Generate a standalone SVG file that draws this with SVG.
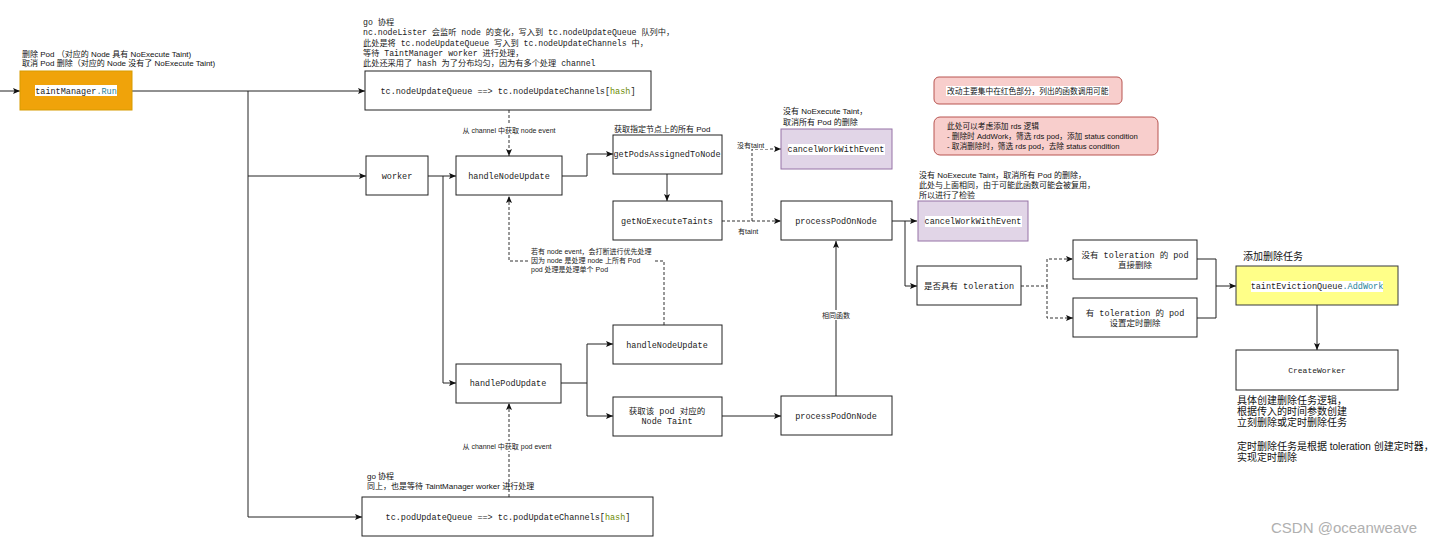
<svg xmlns="http://www.w3.org/2000/svg" width="1433" height="543" viewBox="0 0 1433 543">
<style>
.box{fill:#fff;stroke:#222;stroke-width:1}
.orange{fill:#f0a30a;stroke:#d79b00;stroke-width:1}
.purple{fill:#e1d5e7;stroke:#9673a6;stroke-width:1}
.yellow{fill:#ffff88;stroke:#36393d;stroke-width:1}
.red{fill:#f8cecc;stroke:#b85450;stroke-width:1}
.mono{font-family:"Liberation Mono","Noto Sans CJK SC",monospace;font-size:8.5px;fill:#222}
.sans{font-family:"Liberation Sans","Noto Sans CJK SC",sans-serif;font-size:8px;fill:#111}
.lbl{font-family:"Liberation Sans","Noto Sans CJK SC",sans-serif;font-size:7px;fill:#222}
.big{font-family:"Liberation Sans","Noto Sans CJK SC",sans-serif;font-size:10px;fill:#111}
.mid{text-anchor:middle}
.ln{fill:none;stroke:#222;stroke-width:1}
.dash{fill:none;stroke:#333;stroke-width:1;stroke-dasharray:3,2}
.wbg{fill:#fff}
.teal{fill:#267f99}
.olive{fill:#6a8a00}
</style>
<defs>
<marker id="arr" markerWidth="7" markerHeight="6" refX="7" refY="3" orient="auto" markerUnits="userSpaceOnUse">
<path d="M0,0 L7,3 L0,6 L1.5,3 Z" fill="#111"/>
</marker>
</defs>

<g id="connectors">
<path class="ln" d="M0,91 H20" marker-end="url(#arr)"/>
<path class="ln" d="M132,91 H365" marker-end="url(#arr)"/>
<path class="ln" d="M248,91 V517 H362" marker-end="url(#arr)"/>
<path class="ln" d="M248,176 H366" marker-end="url(#arr)"/>
<path class="ln" d="M428,176 H456" marker-end="url(#arr)"/>
<path class="ln" d="M443,176 V383 H456" marker-end="url(#arr)"/>
<path class="dash" d="M509,110 V156" marker-end="url(#arr)"/>
<path class="ln" d="M562,176 H587 V154 H613" marker-end="url(#arr)"/>
<path class="ln" d="M667,174 V201" marker-end="url(#arr)"/>
<path class="dash" d="M722,221 H752 V149 H781" marker-end="url(#arr)"/>
<path class="dash" d="M752,221 H781" marker-end="url(#arr)"/>
<path class="ln" d="M892,221 H917" marker-end="url(#arr)"/>
<path class="ln" d="M905,221 V286 H917" marker-end="url(#arr)"/>
<path class="dash" d="M1021,286 H1047 V259 H1073" marker-end="url(#arr)"/>
<path class="dash" d="M1047,286 V318 H1073" marker-end="url(#arr)"/>
<path class="ln" d="M1197,259 H1216 V318 H1197"/>
<path class="ln" d="M1216,286 H1236" marker-end="url(#arr)"/>
<path class="ln" d="M1317,305 V350" marker-end="url(#arr)"/>
<path class="ln" d="M561,383 H587 V344 H613" marker-end="url(#arr)"/>
<path class="ln" d="M587,383 V416 H613" marker-end="url(#arr)"/>
<path class="ln" d="M722,416 H781" marker-end="url(#arr)"/>
<path class="ln" d="M836,396 V241" marker-end="url(#arr)"/>
<path class="dash" d="M509,497 V403" marker-end="url(#arr)"/>
<path class="dash" d="M664,325 V261 H509 V196" marker-end="url(#arr)"/>
<rect class="wbg" x="459" y="125" width="100" height="10"/>
<text class="lbl mid" x="509" y="133">从 channel 中获取 node event</text>
<rect class="wbg" x="737" y="140" width="31" height="9"/>
<text class="lbl" x="737" y="148">没有taint</text>
<text class="lbl" x="738" y="234">有taint</text>
<rect class="wbg" x="820" y="310" width="32" height="10"/>
<text class="lbl mid" x="836" y="318">相同函数</text>
<rect class="wbg" x="461" y="441" width="93" height="10"/>
<text class="lbl mid" x="507" y="449">从 channel 中获取 pod event</text>
<rect class="wbg" x="529" y="245" width="124" height="28"/>
<text class="lbl" x="531" y="254">若有 node event，会打断进行优先处理</text>
<text class="lbl" x="531" y="263">因为 node 是处理 node 上所有 Pod</text>
<text class="lbl" x="531" y="272">pod 处理是处理单个 Pod</text>
</g>

<g id="taintManagerRun">
<text class="sans" x="22" y="57">删除 Pod （对应的 Node 具有 NoExecute Taint)</text>
<text class="sans" x="22" y="66">取消 Pod 删除（对应的 Node 没有了 NoExecute Taint)</text>
<rect class="orange" x="20" y="71" width="112" height="39"/>
<rect class="wbg" x="35" y="85" width="82" height="11"/>
<text class="mono mid" x="76" y="94">taintManager<tspan class="teal">.Run</tspan></text>
</g>

<g id="nodeUpdateQueue">
<text class="mono" style="font-size:8.2px" x="363" y="24.5">go 协程</text>
<text class="mono" style="font-size:8.2px" x="363" y="35">nc.nodeLister 会监听 node 的变化，写入到 tc.nodeUpdateQueue 队列中，</text>
<text class="mono" style="font-size:8.2px" x="363" y="45.5">此处是将 tc.nodeUpdateQueue 写入到 tc.nodeUpdateChannels 中，</text>
<text class="mono" style="font-size:8.2px" x="363" y="55.5">等待 TaintManager worker 进行处理，</text>
<text class="mono" style="font-size:8.2px" x="363" y="65.5">此处还采用了 hash 为了分布均匀，因为有多个处理 channel</text>
<rect class="box" x="365" y="71" width="286" height="39"/>
<text class="mono mid" x="508" y="94">tc.nodeUpdateQueue ==&gt; tc.nodeUpdateChannels[<tspan class="olive">hash</tspan>]</text>
</g>

<g id="worker">
<rect class="box" x="366" y="156" width="62" height="39"/>
<text class="mono mid" x="397" y="179">worker</text>
</g>

<g id="handleNodeUpdate">
<rect class="box" x="456" y="156" width="106" height="39"/>
<text class="mono mid" x="509" y="179">handleNodeUpdate</text>
</g>

<g id="getPodsAssignedToNode">
<text class="sans" x="614" y="132">获取指定节点上的所有 Pod</text>
<rect class="box" x="613" y="135" width="109" height="39"/>
<text class="mono mid" x="667" y="157">getPodsAssignedToNode</text>
</g>

<g id="getNoExecuteTaints">
<rect class="box" x="613" y="201" width="109" height="39"/>
<text class="mono mid" x="667" y="224">getNoExecuteTaints</text>
</g>

<g id="cancelWorkWithEvent1">
<text class="sans" x="783" y="114">没有 NoExecute Taint，</text>
<text class="sans" x="783" y="125">取消所有 Pod 的删除</text>
<rect class="purple" x="781" y="129" width="111" height="40"/>
<rect class="wbg" x="788" y="144" width="97" height="11"/>
<text class="mono mid" x="836" y="152">cancelWorkWithEvent</text>
</g>

<g id="processPodOnNode1">
<rect class="box" x="781" y="201" width="111" height="39"/>
<text class="mono mid" x="836" y="224">processPodOnNode</text>
</g>

<g id="cancelWorkWithEvent2">
<text class="sans" x="919" y="178">没有 NoExecute Taint，取消所有 Pod 的删除，</text>
<text class="sans" x="919" y="188">此处与上面相同，由于可能此函数可能会被复用，</text>
<text class="sans" x="919" y="198">所以进行了检验</text>
<rect class="purple" x="918" y="201" width="110" height="40"/>
<rect class="wbg" x="925" y="216" width="97" height="11"/>
<text class="mono mid" x="973" y="224">cancelWorkWithEvent</text>
</g>

<g id="note1">
<rect class="red" x="934" y="77" width="188" height="27" rx="5"/>
<rect class="wbg" x="946" y="86" width="163" height="10"/>
<text class="sans" style="font-size:7.7px" x="947" y="94">改动主要集中在红色部分，列出的函数调用可能</text>
</g>

<g id="note2">
<rect class="red" x="934" y="117" width="224" height="38" rx="6"/>
<text class="sans" style="font-size:7.7px" x="947" y="129">此处可以考虑添加 rds 逻辑</text>
<text class="sans" style="font-size:7.7px" x="947" y="139">- 删除时 AddWork，筛选 rds pod，添加 status condition</text>
<text class="sans" style="font-size:7.7px" x="947" y="149">- 取消删除时，筛选 rds pod，去除 status condition</text>
</g>

<g id="hasToleration">
<rect class="box" x="917" y="266" width="104" height="39"/>
<text class="mono mid" x="969" y="289">是否具有 toleration</text>
</g>

<g id="noToleration">
<rect class="box" x="1073" y="240" width="124" height="39"/>
<text class="mono mid" x="1135" y="258">没有 toleration 的 pod</text>
<text class="mono mid" x="1135" y="268">直接删除</text>
</g>

<g id="withToleration">
<rect class="box" x="1073" y="298" width="124" height="39"/>
<text class="mono mid" x="1135" y="316">有 toleration 的 pod</text>
<text class="mono mid" x="1135" y="326">设置定时删除</text>
</g>

<g id="taintEvictionQueue">
<text class="big" x="1243" y="260">添加删除任务</text>
<rect class="yellow" x="1236" y="266" width="162" height="39"/>
<rect class="wbg" x="1251" y="281" width="132" height="11"/>
<text class="mono mid" x="1317" y="289">taintEvictionQueue<tspan class="teal">.AddWork</tspan></text>
</g>

<g id="createWorker">
<rect class="box" x="1236" y="350" width="162" height="40"/>
<text class="mono mid" style="font-size:8px" x="1317" y="373">CreateWorker</text>
<text class="big" x="1237" y="404">具体创建删除任务逻辑，</text>
<text class="big" x="1237" y="415">根据传入的时间参数创建</text>
<text class="big" x="1237" y="426">立刻删除或定时删除任务</text>
<text class="big" x="1237" y="450">定时删除任务是根据 toleration 创建定时器，</text>
<text class="big" x="1237" y="461">实现定时删除</text>
</g>

<g id="handleNodeUpdate2">
<rect class="box" x="613" y="325" width="109" height="39"/>
<text class="mono mid" x="667" y="348">handleNodeUpdate</text>
</g>

<g id="handlePodUpdate">
<rect class="box" x="456" y="364" width="105" height="39"/>
<text class="mono mid" x="508" y="386">handlePodUpdate</text>
</g>

<g id="getNodeTaint">
<rect class="box" x="613" y="397" width="109" height="39"/>
<text class="mono mid" x="667" y="414">获取该 pod 对应的</text>
<text class="mono mid" x="667" y="424">Node Taint</text>
</g>

<g id="processPodOnNode2">
<rect class="box" x="781" y="396" width="111" height="39"/>
<text class="mono mid" x="836" y="419">processPodOnNode</text>
</g>

<g id="podUpdateQueue">
<text class="sans" x="367" y="479">go 协程</text>
<text class="sans" x="367" y="489">同上，也是等待 TaintManager worker 进行处理</text>
<rect class="box" x="362" y="497" width="291" height="39"/>
<text class="mono mid" x="508" y="520">tc.podUpdateQueue ==&gt; tc.podUpdateChannels[<tspan class="olive">hash</tspan>]</text>
</g>

<text x="1271" y="533" style="font-family:'Liberation Sans',sans-serif;font-size:15px;fill:#b0b0b0">CSDN @oceanweave</text>
</svg>
